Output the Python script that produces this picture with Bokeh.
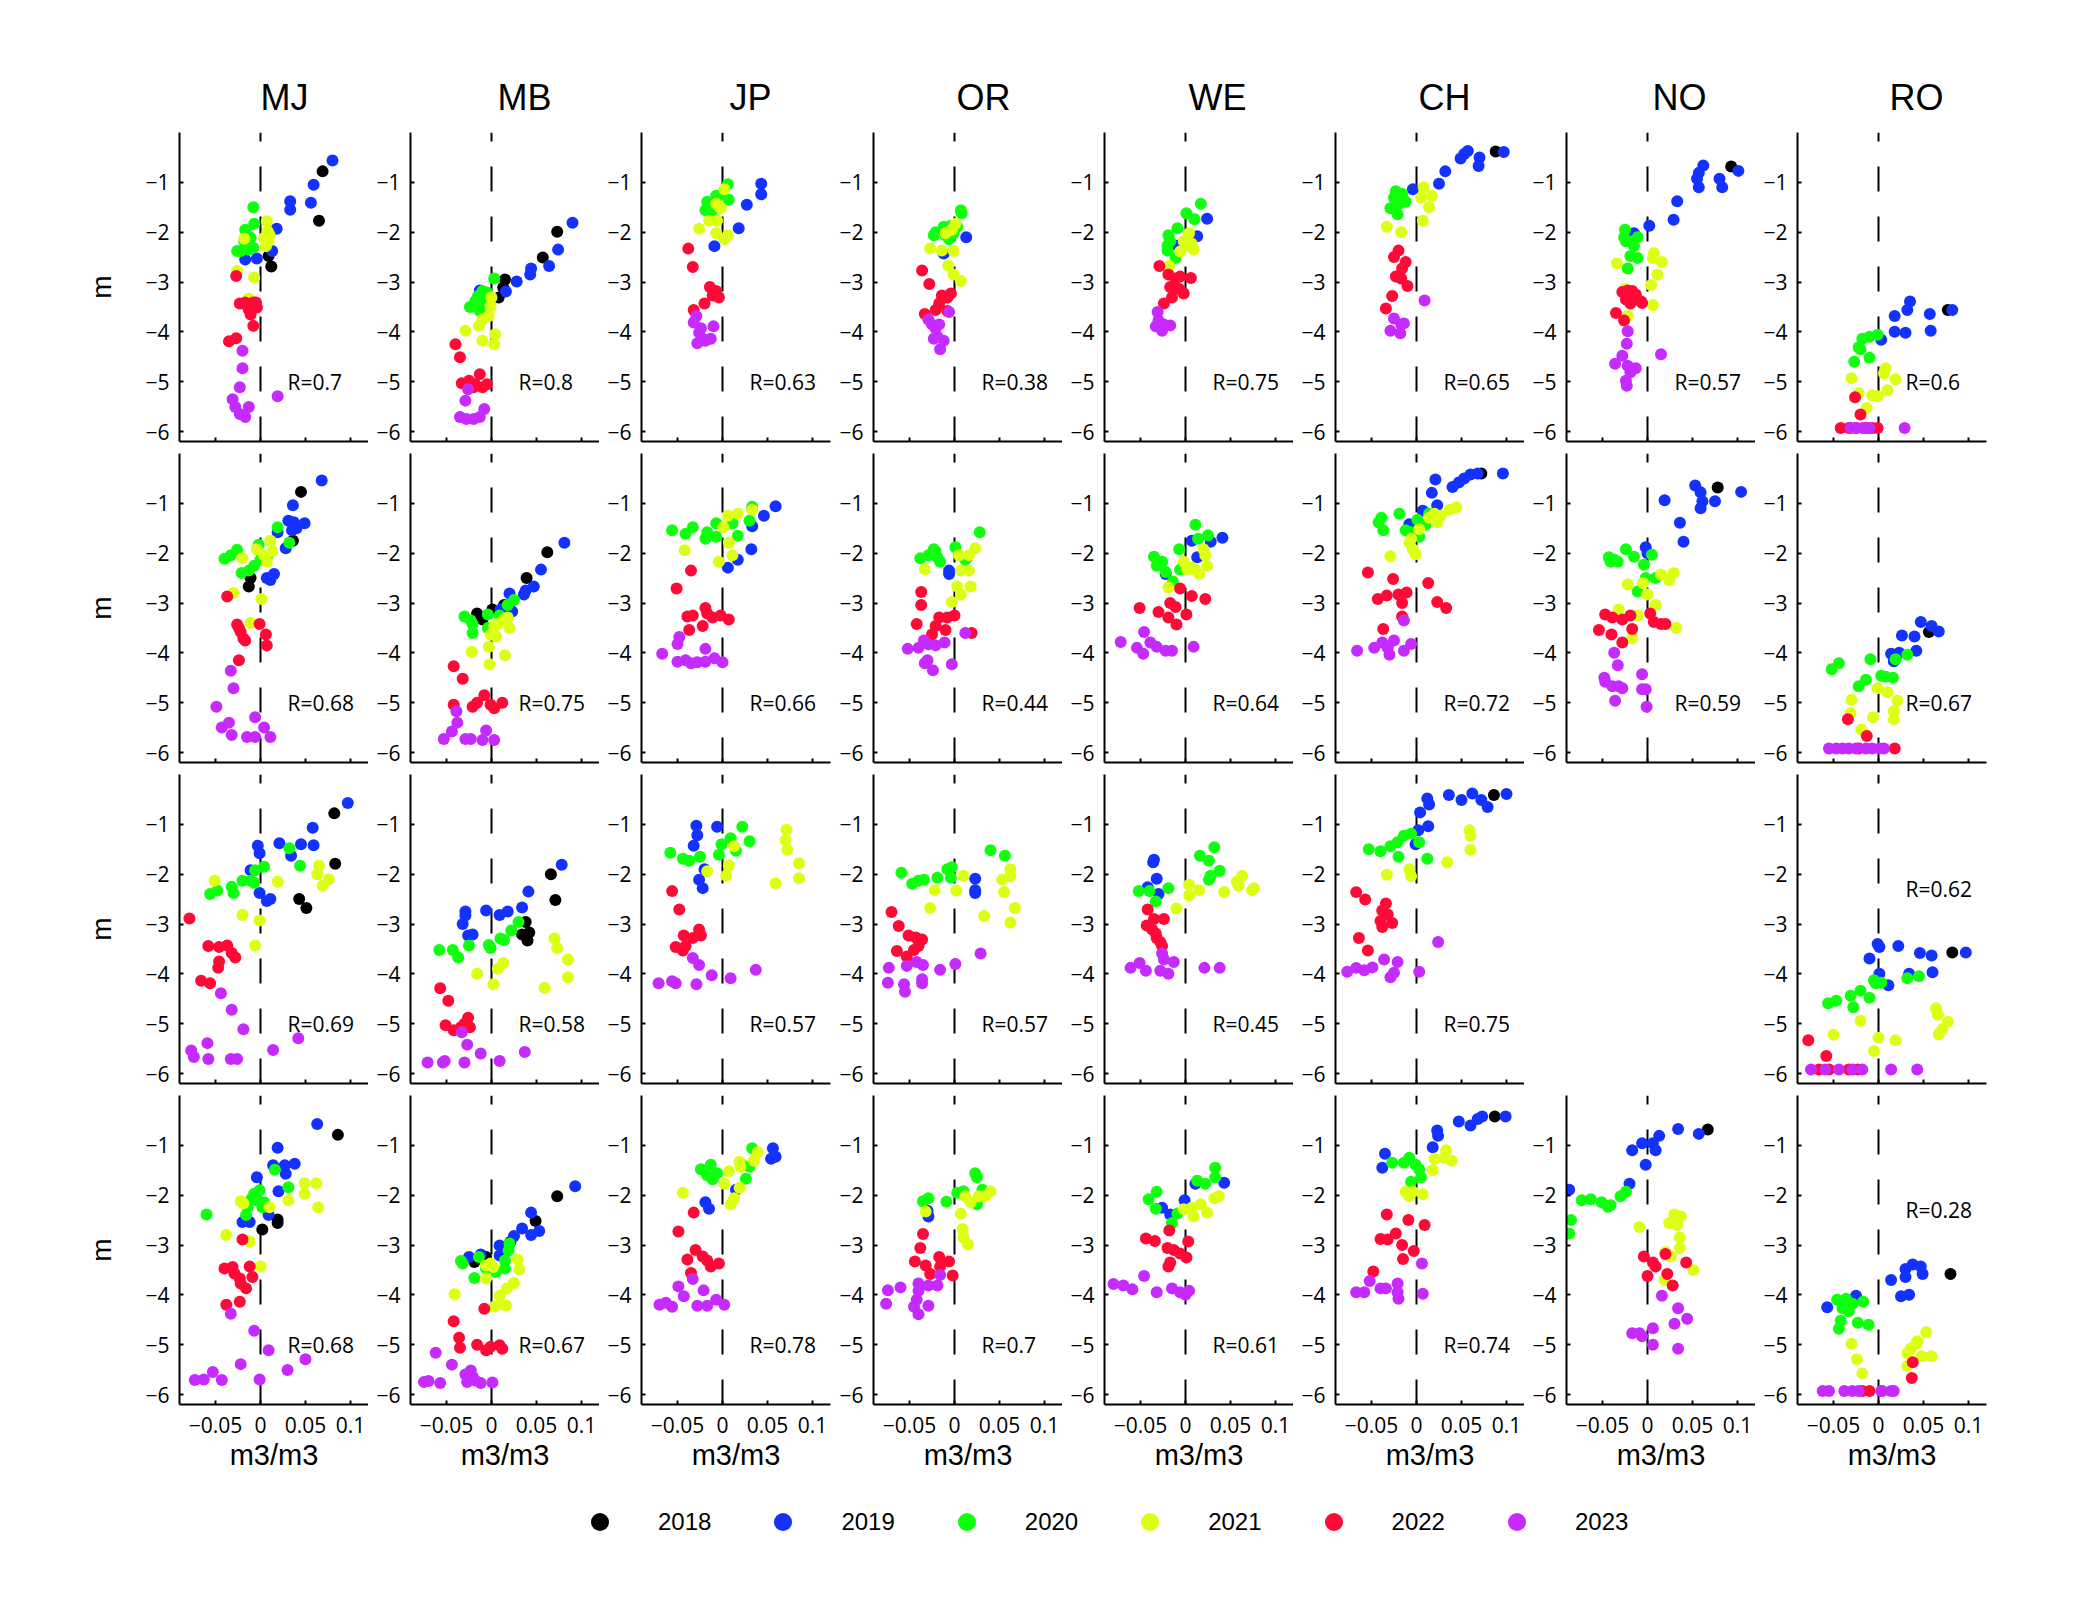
from bokeh.plotting import figure
from bokeh.layouts import row, column
from bokeh.models import (Span, Label, Legend, LegendItem, FixedTicker,
                          CustomJSTickFormatter, Title, Spacer, Range1d,
                          ColumnDataSource)
from bokeh.embed import file_html
from bokeh.resources import INLINE

SITES = ["MJ", "MB", "JP", "OR", "WE", "CH", "NO", "RO"]
YEARS = [2018, 2019, 2020, 2021, 2022, 2023]
YEAR_COLORS = ["#000000", "#1432ff", "#0fff0f", "#dcff14", "#ff0a37", "#c52bff"]
X_TICKS = [-0.05, 0, 0.05, 0.1]
Y_TICKS = [-6, -5, -4, -3, -2, -1]
R_ROW1 = ["R=0.7", "R=0.8", "R=0.63", "R=0.38", "R=0.75", "R=0.65", "R=0.57", "R=0.6"]
R_ROW2 = ["R=0.68", "R=0.75", "R=0.66", "R=0.44", "R=0.64", "R=0.72", "R=0.59", "R=0.67"]
R_ROW3 = ["R=0.69", "R=0.58", "R=0.57", "R=0.57", "R=0.45", "R=0.75", None, "R=0.62"]
R_ROW4 = ["R=0.68", "R=0.67", "R=0.78", "R=0.7", "R=0.61", "R=0.74", None, "R=0.28"]

# ---- data: (x m3/m3, y m) per site, row and year ----
MJ1_2018 = ([0.069, 0.065, 0.009, 0.012], [-0.78, -1.77, -2.48, -2.69])
MJ1_2019 = ([0.080, 0.059, 0.033, 0.033, 0.056, 0.018, 0.013, -0.004, -0.017], [-0.56, -1.05, -1.38, -1.55, -1.41, -1.93, -2.38, -2.53, -2.55])
MJ1_2020 = ([-0.008, -0.017, -0.007, -0.018, -0.011, -0.008, -0.022, -0.026, -0.013], [-1.50, -1.95, -1.83, -2.18, -2.11, -2.31, -2.38, -2.38, -2.35])
MJ1_2021 = ([0.007, 0.008, 0.009, 0.004, -0.018, -0.026, -0.007, -0.013, 0.010, 0.006], [-1.78, -1.98, -2.18, -2.11, -2.13, -2.78, -2.91, -3.33, -2.05, -2.28])
MJ1_2022 = ([-0.027, -0.023, -0.016, -0.013, -0.008, -0.004, -0.011, -0.008, -0.005, -0.017, -0.035, -0.027], [-2.88, -3.43, -3.45, -3.55, -3.41, -3.51, -3.65, -3.88, -3.41, -3.41, -4.19, -4.13])
MJ1_2023 = ([-0.020, -0.020, -0.023, -0.031, -0.028, -0.023, -0.017, -0.013, 0.019], [-4.38, -4.73, -5.11, -5.35, -5.51, -5.65, -5.71, -5.51, -5.29])

MB1_2018 = ([0.073, 0.057, 0.015, 0.013, 0.008], [-1.99, -2.51, -2.95, -3.11, -3.31])
MB1_2019 = ([0.090, 0.074, 0.064, 0.044, 0.043, 0.028, 0.016, -0.013], [-1.81, -2.35, -2.68, -2.73, -2.85, -2.99, -3.19, -3.17])
MB1_2020 = ([0.003, -0.010, -0.015, -0.018, -0.024, -0.013, -0.010, -0.005], [-2.93, -3.18, -3.28, -3.38, -3.50, -3.58, -3.41, -3.21])
MB1_2021 = ([0.000, -0.001, -0.003, -0.010, -0.014, -0.029, -0.010, 0.003, 0.004], [-3.31, -3.48, -3.68, -3.75, -3.88, -3.98, -4.18, -4.25, -4.05])
MB1_2022 = ([-0.040, -0.035, -0.033, -0.025, -0.018, -0.013, -0.010, -0.005, -0.020], [-4.25, -4.51, -5.03, -4.98, -5.05, -4.85, -5.11, -5.05, -5.11])
MB1_2023 = ([-0.026, -0.029, -0.008, -0.035, -0.028, -0.020, -0.013], [-5.15, -5.38, -5.55, -5.71, -5.75, -5.75, -5.71])

MJ2_2018 = ([0.045, 0.036, -0.013, -0.011], [-0.77, -1.75, -2.67, -2.50])
MJ2_2019 = ([0.068, 0.036, 0.031, 0.037, 0.040, 0.049, 0.035, 0.028, 0.019, 0.007, 0.015, 0.011], [-0.54, -1.04, -1.35, -1.38, -1.50, -1.40, -1.54, -1.90, -1.58, -2.50, -2.42, -2.54])
MJ2_2020 = ([0.019, -0.040, -0.033, -0.026, -0.021, -0.013, -0.007, -0.002, 0.007, 0.032, 0.000], [-1.48, -2.11, -2.04, -1.93, -2.40, -2.35, -2.25, -1.83, -2.08, -1.79, -2.13])
MJ2_2021 = ([-0.020, 0.011, 0.004, 0.007, -0.004, 0.013, -0.030, 0.001, -0.011], [-2.10, -1.75, -2.04, -2.17, -1.92, -1.96, -2.80, -2.92, -3.40])
MJ2_2022 = ([-0.037, -0.026, -0.022, -0.019, -0.024, -0.001, 0.006, 0.007, -0.024, -0.017], [-2.87, -3.43, -3.58, -3.71, -3.50, -3.42, -3.63, -3.85, -4.15, -3.75])
MJ2_2023 = ([-0.033, -0.030, -0.049, -0.043, -0.035, -0.032, -0.015, -0.006, -0.006, 0.004, 0.011], [-4.36, -4.71, -5.08, -5.50, -5.40, -5.65, -5.69, -5.69, -5.29, -5.50, -5.69])

MB2_2018 = ([0.062, 0.039, -0.016, -0.010, 0.001, 0.014], [-1.98, -2.50, -3.21, -3.33, -3.13, -3.04])
MB2_2019 = ([0.081, 0.055, 0.038, 0.047, 0.036, 0.020, 0.010, 0.023], [-1.79, -2.33, -2.75, -2.67, -2.83, -2.81, -3.13, -3.17])
MB2_2020 = ([-0.030, -0.023, -0.021, -0.021, -0.004, -0.004, 0.025, 0.018, 0.009], [-3.27, -3.35, -3.60, -3.42, -3.23, -3.50, -2.94, -3.04, -3.25])
MB2_2021 = ([0.007, 0.014, 0.020, 0.018, 0.003, -0.001, -0.003, 0.005, -0.022, 0.015, -0.002], [-3.42, -3.33, -3.50, -3.29, -3.46, -3.63, -3.88, -3.67, -3.98, -4.05, -4.23])
MB2_2022 = ([-0.042, -0.032, -0.042, -0.021, -0.016, -0.008, 0.003, 0.012, -0.001], [-4.27, -4.52, -5.04, -5.08, -5.00, -4.85, -5.11, -5.00, -5.04])
MB2_2023 = ([-0.039, -0.038, -0.044, -0.053, -0.029, -0.023, -0.006, -0.010, 0.003], [-5.17, -5.40, -5.58, -5.73, -5.73, -5.73, -5.56, -5.75, -5.75])

MJ3_2018 = ([0.082, 0.083, 0.043, 0.051], [-0.78, -1.79, -2.50, -2.68])
MJ3_2019 = ([0.097, 0.058, -0.003, -0.001, 0.021, 0.045, 0.059, 0.034, -0.011, -0.001, 0.007, 0.011], [-0.57, -1.07, -1.43, -1.58, -1.38, -1.40, -1.42, -1.63, -1.92, -2.38, -2.54, -2.50])
MJ3_2020 = ([0.032, 0.044, 0.004, -0.006, -0.011, -0.020, -0.007, -0.032, -0.030, -0.056, -0.048], [-1.48, -1.83, -1.85, -1.92, -2.13, -2.13, -2.17, -2.25, -2.38, -2.40, -2.33])
MJ3_2021 = ([-0.051, 0.019, 0.065, 0.063, 0.076, 0.069, -0.020, -0.001, -0.006], [-2.13, -2.15, -1.83, -2.00, -2.10, -2.23, -2.82, -2.93, -3.43])
MJ3_2022 = ([-0.079, -0.058, -0.046, -0.037, -0.032, -0.028, -0.046, -0.047, -0.066, -0.056], [-2.89, -3.44, -3.46, -3.43, -3.58, -3.67, -3.75, -3.88, -4.14, -4.19])
MJ3_2023 = ([-0.044, -0.032, -0.019, -0.077, -0.074, -0.059, -0.058, -0.033, -0.026, 0.014, 0.042], [-4.39, -4.72, -5.11, -5.54, -5.67, -5.39, -5.71, -5.71, -5.71, -5.53, -5.29])

MB3_2018 = ([0.066, 0.071, 0.038, 0.042, 0.034, 0.040], [-2.00, -2.52, -2.96, -3.17, -3.21, -3.33])
MB3_2019 = ([0.078, 0.041, -0.029, -0.029, -0.032, -0.021, -0.026, -0.006, 0.009, 0.018, 0.034], [-1.81, -2.35, -2.75, -2.83, -3.00, -3.21, -3.23, -2.73, -2.82, -2.75, -2.67])
MB3_2020 = ([0.030, 0.022, 0.010, 0.014, -0.003, -0.001, -0.025, -0.058, -0.043, -0.037], [-2.96, -3.13, -3.29, -3.32, -3.42, -3.48, -3.43, -3.52, -3.52, -3.67])
MB3_2021 = ([0.070, 0.073, 0.085, 0.085, 0.059, 0.013, 0.007, -0.016, 0.002], [-3.29, -3.48, -3.71, -4.07, -4.28, -3.78, -3.90, -4.00, -4.21])
MB3_2022 = ([-0.057, -0.048, -0.051, -0.042, -0.034, -0.026, -0.024, -0.030], [-4.29, -4.54, -5.03, -5.13, -5.07, -4.88, -5.07, -5.00])
MB3_2023 = ([-0.033, -0.027, -0.012, -0.071, -0.054, -0.052, -0.030, 0.009, 0.037], [-5.17, -5.42, -5.60, -5.78, -5.78, -5.75, -5.78, -5.75, -5.57])

MJ4_2018 = ([0.086, 0.019, 0.019, 0.002], [-0.79, -2.49, -2.56, -2.69])
MJ4_2019 = ([0.063, 0.019, 0.014, 0.027, 0.038, 0.028, -0.004, 0.020, -0.020, -0.012, 0.009], [-0.57, -1.05, -1.40, -1.40, -1.37, -1.57, -1.64, -1.92, -2.54, -2.54, -2.40])
MJ4_2020 = ([-0.060, 0.016, 0.031, -0.001, -0.010, -0.004, 0.002, 0.004, -0.014, -0.016, -0.007], [-2.39, -1.49, -1.84, -1.90, -2.07, -2.10, -2.24, -2.14, -2.24, -2.40, -1.97])
MJ4_2021 = ([0.049, 0.062, 0.049, 0.064, 0.031, -0.022, -0.019, 0.010, -0.038, -0.012, 0.000], [-1.76, -1.76, -1.97, -2.24, -2.10, -2.12, -2.16, -2.24, -2.80, -2.93, -3.43])
MJ4_2022 = ([-0.020, -0.040, -0.031, -0.029, -0.023, -0.022, -0.016, -0.012, -0.009, -0.038, -0.023], [-2.89, -3.47, -3.44, -3.57, -3.67, -3.77, -3.87, -3.43, -3.64, -4.20, -4.14])
MJ4_2023 = ([-0.033, -0.007, 0.009, -0.022, -0.073, -0.063, -0.053, -0.043, -0.001, 0.030, 0.050], [-4.38, -4.72, -5.11, -5.39, -5.71, -5.70, -5.55, -5.71, -5.70, -5.51, -5.29])

MB4_2018 = ([0.073, 0.049, -0.019, -0.006, 0.021], [-2.02, -2.52, -3.34, -3.24, -2.94])
MB4_2019 = ([0.093, 0.044, 0.053, 0.044, 0.034, 0.025, 0.009, 0.009, -0.012, -0.025], [-1.82, -2.35, -2.72, -2.80, -2.67, -2.82, -3.01, -3.21, -3.19, -3.24])
MB4_2020 = ([0.020, 0.019, 0.015, 0.015, 0.005, -0.006, -0.034, -0.032, -0.014, -0.019], [-2.97, -3.11, -3.31, -3.47, -3.54, -3.47, -3.32, -3.37, -3.24, -3.66])
MB4_2021 = ([-0.006, -0.001, 0.002, -0.006, 0.029, 0.031, 0.025, 0.017, 0.009, 0.010, 0.016, 0.003, -0.041], [-3.41, -3.37, -3.44, -3.67, -3.29, -3.49, -3.76, -3.87, -4.02, -4.19, -4.21, -4.24, -3.99])
MB4_2022 = ([-0.008, -0.042, -0.036, -0.035, -0.016, -0.006, 0.009, 0.012, -0.001], [-4.28, -4.53, -4.86, -5.06, -5.00, -5.11, -5.01, -5.08, -5.04])
MB4_2023 = ([-0.062, -0.044, -0.075, -0.070, -0.057, -0.029, -0.021, -0.027, -0.018, -0.012, -0.023, 0.001], [-5.16, -5.40, -5.75, -5.73, -5.77, -5.60, -5.64, -5.75, -5.72, -5.77, -5.52, -5.76])

JP1_2019 = ([0.043, 0.043, 0.027, 0.018, -0.009], [-1.03, -1.24, -1.45, -1.92, -2.28])
JP1_2020 = ([0.006, 0.007, -0.004, -0.017, -0.019, -0.011, -0.007, -0.015], [-1.04, -1.35, -1.27, -1.39, -1.56, -1.56, -1.27, -1.43])
JP1_2021 = ([0.002, -0.007, -0.002, -0.006, -0.015, -0.026, -0.007, 0.002, 0.006, -0.004], [-1.14, -1.43, -1.52, -1.77, -1.77, -1.93, -2.02, -2.14, -2.06, -1.48])
JP1_2022 = ([-0.038, -0.033, -0.014, -0.011, -0.004, -0.020, -0.032, -0.007], [-2.33, -2.70, -3.10, -3.27, -3.31, -3.43, -3.56, -3.18])
JP1_2023 = ([-0.029, -0.032, -0.010, -0.026, -0.022, -0.013, -0.028, -0.019, -0.024], [-3.68, -3.81, -3.89, -4.02, -4.14, -4.14, -4.23, -4.18, -3.93])

OR1_2019 = ([0.013, -0.012], [-2.10, -2.43])
OR1_2020 = ([0.007, 0.008, -0.012, -0.004, -0.021, -0.023, -0.010, -0.001, -0.006, 0.003], [-1.56, -1.62, -1.89, -1.87, -2.00, -2.06, -2.06, -2.02, -2.14, -1.89])
OR1_2021 = ([0.001, -0.010, -0.003, -0.027, -0.014, -0.001, -0.007, -0.001, 0.007], [-1.83, -2.02, -1.95, -2.33, -2.37, -2.38, -2.67, -2.85, -2.98])
OR1_2022 = ([-0.036, -0.028, -0.014, -0.008, -0.004, -0.017, -0.021, -0.008, -0.033], [-2.77, -3.04, -3.27, -3.31, -3.23, -3.43, -3.56, -3.58, -3.64])
OR1_2023 = ([-0.006, -0.029, -0.025, -0.021, -0.017, -0.019, -0.023, -0.012, -0.016], [-3.60, -3.75, -3.85, -3.93, -3.85, -4.10, -4.14, -4.18, -4.35])

JP2_2019 = ([0.059, 0.046, 0.033, 0.032, 0.017, 0.006], [-1.06, -1.25, -1.46, -1.92, -2.13, -2.29])
JP2_2020 = ([-0.056, -0.041, -0.033, -0.019, -0.017, -0.007, -0.007, 0.011, 0.017, 0.030, 0.033], [-1.54, -1.61, -1.48, -1.71, -1.58, -1.67, -1.40, -1.40, -1.65, -1.35, -1.07])
JP2_2021 = ([-0.042, -0.004, 0.011, 0.007, 0.001, 0.006, 0.017, 0.033], [-1.94, -2.17, -2.04, -1.79, -1.48, -1.25, -1.21, -1.13])
JP2_2022 = ([-0.035, -0.051, -0.019, -0.039, -0.033, -0.037, -0.022, -0.011, -0.002, 0.007, -0.017], [-2.35, -2.71, -3.10, -3.27, -3.25, -3.54, -3.46, -3.29, -3.25, -3.33, -3.21])
JP2_2023 = ([-0.067, -0.048, -0.050, -0.050, -0.041, -0.035, -0.028, -0.019, -0.019, -0.009, 0.000], [-4.02, -3.68, -3.82, -4.18, -4.15, -4.21, -4.19, -4.18, -3.92, -4.11, -4.19])

OR2_2019 = ([0.014, -0.006, -0.006], [-2.08, -2.35, -2.42])
OR2_2020 = ([0.028, -0.038, -0.029, -0.023, -0.019, -0.021, -0.016, 0.001, 0.012], [-1.58, -2.10, -2.04, -1.92, -2.08, -1.96, -2.17, -1.88, -2.13])
OR2_2021 = ([0.023, 0.016, 0.005, -0.033, 0.007, 0.016, 0.003, 0.018, 0.007, -0.003], [-1.90, -2.04, -2.04, -2.32, -2.35, -2.35, -2.67, -2.67, -2.83, -2.98])
OR2_2022 = ([-0.037, -0.037, -0.042, -0.025, -0.017, -0.008, 0.000, -0.021, -0.010, 0.019], [-2.78, -3.04, -3.42, -3.63, -3.29, -3.29, -3.25, -3.46, -3.54, -3.60])
OR2_2023 = ([0.012, -0.052, -0.040, -0.034, -0.029, -0.021, -0.011, -0.030, -0.033, -0.024, -0.003], [-3.60, -3.92, -3.90, -3.75, -3.83, -3.85, -3.79, -4.15, -4.21, -4.35, -4.23])

JP3_2019 = ([-0.029, -0.028, -0.032, -0.006, -0.020, -0.026, -0.022], [-1.03, -1.22, -1.43, -1.05, -1.90, -2.11, -2.28])
JP3_2020 = ([-0.058, -0.044, -0.037, -0.025, -0.004, -0.001, 0.009, 0.015, 0.022, 0.030], [-1.57, -1.69, -1.73, -1.65, -1.61, -1.40, -1.28, -1.53, -1.05, -1.34])
JP3_2021 = ([-0.017, 0.004, 0.007, 0.013, 0.071, 0.070, 0.072, 0.085, 0.085, 0.059], [-1.94, -2.03, -1.82, -1.44, -1.11, -1.32, -1.51, -1.78, -2.08, -2.18])
JP3_2022 = ([-0.056, -0.048, -0.026, -0.043, -0.033, -0.024, -0.041, -0.052, -0.044], [-2.34, -2.71, -3.11, -3.23, -3.28, -3.23, -3.44, -3.46, -3.53])
JP3_2023 = ([-0.033, -0.026, -0.071, -0.056, -0.052, -0.029, -0.012, 0.009, 0.037], [-3.68, -3.82, -4.19, -4.15, -4.19, -4.21, -4.03, -4.09, -3.92])

OR3_2019 = ([0.023, 0.023, 0.023], [-2.09, -2.32, -2.38])
OR3_2020 = ([-0.059, -0.047, -0.040, -0.034, -0.019, -0.008, -0.004, -0.003, 0.040, 0.056], [-1.97, -2.19, -2.13, -2.11, -2.07, -1.90, -2.07, -1.86, -1.52, -1.63])
OR3_2021 = ([0.010, -0.022, 0.002, -0.027, 0.033, 0.055, 0.053, 0.062, 0.062, 0.067, 0.062], [-2.03, -2.32, -2.33, -2.68, -2.84, -2.36, -2.11, -1.90, -2.04, -2.68, -2.97])
OR3_2022 = ([-0.070, -0.062, -0.064, -0.051, -0.043, -0.040, -0.045, -0.036, -0.053], [-2.76, -3.04, -3.54, -3.23, -3.27, -3.44, -3.52, -3.31, -3.65])
OR3_2023 = ([-0.042, -0.053, -0.035, -0.073, -0.074, -0.056, -0.055, -0.036, -0.036, -0.016, 0.001, 0.029], [-3.76, -3.84, -3.82, -3.88, -4.18, -4.21, -4.36, -4.11, -4.19, -3.92, -3.80, -3.59])

JP4_2019 = ([0.056, 0.059, 0.054, 0.015, -0.019, -0.015], [-1.06, -1.23, -1.27, -1.89, -2.14, -2.27])
JP4_2020 = ([0.033, -0.024, -0.013, -0.011, -0.017, -0.006, 0.026, 0.022, 0.030], [-1.06, -1.48, -1.39, -1.68, -1.60, -1.56, -1.67, -1.39, -1.43])
JP4_2021 = ([-0.044, 0.002, 0.007, 0.019, 0.020, 0.035, 0.039, 0.019, 0.013, 0.009], [-1.95, -1.77, -1.52, -1.33, -1.43, -1.31, -1.14, -1.85, -2.06, -2.18])
JP4_2022 = ([-0.032, -0.049, -0.039, -0.030, -0.022, -0.017, -0.013, -0.004, -0.035], [-2.35, -2.73, -3.29, -3.10, -3.23, -3.31, -3.43, -3.37, -3.56])
JP4_2023 = ([-0.033, -0.049, -0.043, -0.021, -0.070, -0.063, -0.056, -0.028, -0.017, -0.007, 0.002], [-3.68, -3.83, -4.03, -3.91, -4.20, -4.16, -4.24, -4.22, -4.22, -4.10, -4.20])

OR4_2019 = ([-0.029, -0.030], [-2.43, -2.31])
OR4_2020 = ([-0.029, -0.035, -0.009, 0.003, 0.010, 0.023, 0.025, 0.031, 0.025], [-2.06, -2.12, -2.13, -1.95, -1.92, -1.56, -1.64, -1.89, -2.18])
OR4_2021 = ([-0.032, 0.012, 0.018, 0.027, 0.034, 0.040, 0.007, 0.009, 0.010, 0.015], [-2.33, -2.02, -2.14, -2.02, -2.02, -1.92, -2.37, -2.68, -2.85, -2.99])
OR4_2022 = ([-0.035, -0.038, -0.044, -0.032, -0.027, -0.017, -0.006, -0.016, -0.002], [-2.78, -3.06, -3.33, -3.41, -3.58, -3.24, -3.33, -3.43, -3.61])
OR4_2023 = ([-0.074, -0.060, -0.076, -0.040, -0.029, -0.019, -0.016, -0.040, -0.042, -0.045, -0.029, -0.040], [-3.91, -3.85, -4.18, -3.77, -3.81, -3.81, -3.60, -3.92, -4.10, -4.24, -4.22, -4.39])

WE1_2019 = ([0.024, 0.013, -0.009], [-1.73, -2.08, -2.27])
WE1_2020 = ([0.017, 0.001, 0.010, -0.009, -0.019, -0.017, -0.020, -0.020, -0.011], [-1.43, -1.62, -1.74, -1.92, -2.06, -2.18, -2.27, -2.37, -2.52])
WE1_2021 = ([0.004, 0.007, -0.002, -0.006, 0.009, 0.002, -0.018], [-2.02, -2.23, -2.18, -2.39, -2.35, -2.27, -2.68])
WE1_2022 = ([-0.029, -0.019, -0.011, -0.006, 0.006, -0.017, -0.007, -0.002, -0.015, -0.024], [-2.68, -2.85, -2.93, -2.89, -2.92, -3.10, -3.14, -3.23, -3.31, -3.43])
WE1_2023 = ([-0.031, -0.030, -0.033, -0.026, -0.017, -0.024], [-3.60, -3.77, -3.89, -3.98, -3.87, -3.85])

CH1_2018 = ([0.088], [-0.38])
CH1_2019 = ([0.097, 0.070, 0.069, 0.057, 0.049, 0.053, 0.032, 0.025, -0.004], [-0.39, -0.50, -0.67, -0.37, -0.52, -0.43, -0.78, -1.03, -1.14])
CH1_2020 = ([-0.016, -0.025, -0.019, -0.029, -0.021, -0.012, -0.023], [-1.23, -1.31, -1.43, -1.52, -1.64, -1.39, -1.18])
CH1_2021 = ([0.008, 0.017, 0.005, 0.014, 0.007, -0.033, -0.017], [-1.10, -1.27, -1.31, -1.50, -1.77, -1.89, -2.00])
CH1_2022 = ([-0.020, -0.025, -0.012, -0.016, -0.023, -0.017, -0.010, -0.027, -0.034], [-2.37, -2.50, -2.60, -2.73, -2.89, -2.93, -3.08, -3.28, -3.53])
CH1_2023 = ([0.009, -0.025, -0.017, -0.029, -0.014, -0.018], [-3.37, -3.73, -3.85, -3.98, -3.83, -4.03])

WE2_2019 = ([0.041, 0.028, 0.007, 0.013, -0.022], [-1.69, -1.77, -1.75, -2.08, -2.42])
WE2_2020 = ([0.011, 0.014, 0.025, -0.007, -0.035, -0.026, -0.032, -0.022, -0.006, -0.014], [-1.43, -1.71, -1.64, -1.92, -2.07, -2.17, -2.25, -2.38, -2.33, -2.57])
WE2_2021 = ([-0.002, 0.011, 0.015, 0.022, 0.024, 0.020, 0.007, 0.002, -0.019], [-2.17, -2.33, -2.42, -2.04, -2.25, -1.92, -2.29, -2.33, -2.69])
WE2_2022 = ([-0.006, 0.007, 0.022, -0.051, -0.030, -0.019, -0.017, -0.011, -0.010, 0.001], [-2.71, -2.86, -2.92, -3.10, -3.18, -3.29, -3.00, -3.08, -3.43, -3.23])
WE2_2023 = ([-0.072, -0.046, -0.039, -0.032, -0.022, -0.015, -0.054, -0.047, 0.009], [-3.78, -3.58, -3.79, -3.88, -3.96, -3.96, -3.90, -4.02, -3.88])

CH2_2018 = ([0.072], [-0.40])
CH2_2019 = ([0.096, 0.060, 0.068, 0.053, 0.047, 0.040, 0.021, 0.017, 0.023, 0.007, -0.008], [-0.40, -0.42, -0.40, -0.50, -0.58, -0.67, -0.52, -0.79, -1.04, -1.15, -1.42])
CH2_2020 = ([-0.039, -0.042, -0.037, -0.019, -0.012, -0.006, 0.003, 0.001, 0.010, 0.014], [-1.29, -1.38, -1.54, -1.21, -1.54, -1.58, -1.67, -1.33, -1.43, -1.21])
CH2_2021 = ([0.003, 0.014, 0.027, 0.037, 0.044, 0.023, 0.020, -0.008, -0.004, -0.001, -0.006, -0.029], [-1.52, -1.29, -1.25, -1.13, -1.08, -1.38, -1.21, -1.79, -1.92, -2.02, -1.71, -2.06])
CH2_2022 = ([-0.054, -0.026, 0.013, -0.043, -0.033, -0.020, -0.011, -0.016, 0.023, 0.033, -0.016, -0.037], [-2.39, -2.52, -2.60, -2.92, -2.85, -2.83, -2.79, -3.00, -2.98, -3.10, -3.27, -3.52])
CH2_2023 = ([-0.014, -0.066, -0.047, -0.038, -0.025, -0.030, -0.032, -0.014, -0.006], [-3.35, -3.96, -3.90, -3.79, -3.75, -4.04, -3.90, -3.96, -3.82])

WE3_2019 = ([-0.035, -0.036, -0.032, -0.042, -0.030], [-1.71, -1.76, -2.09, -2.26, -2.40])
WE3_2020 = ([-0.052, -0.040, -0.033, -0.019, 0.016, 0.026, 0.032, 0.038, 0.026, 0.028], [-2.34, -2.34, -2.55, -2.28, -1.63, -1.73, -1.46, -1.93, -2.11, -2.03])
WE3_2021 = ([-0.010, 0.004, 0.004, 0.015, 0.043, 0.057, 0.063, 0.059, 0.074, 0.076], [-2.69, -2.21, -2.43, -2.32, -2.36, -2.15, -2.03, -2.23, -2.32, -2.28])
WE3_2022 = ([-0.042, -0.035, -0.024, -0.043, -0.037, -0.033, -0.032, -0.028, -0.026], [-2.71, -2.90, -2.90, -3.03, -3.11, -3.19, -3.28, -3.36, -3.44])
WE3_2023 = ([-0.026, -0.024, -0.013, -0.061, -0.051, -0.044, -0.028, -0.019, 0.021, 0.038], [-3.59, -3.71, -3.76, -3.88, -3.78, -3.94, -3.94, -4.00, -3.88, -3.88])

CH3_2018 = ([0.086], [-0.41])
CH3_2019 = ([0.100, 0.079, 0.072, 0.062, 0.050, 0.036, 0.012, 0.014, 0.004, 0.013, 0.002, -0.001], [-0.39, -0.65, -0.51, -0.38, -0.51, -0.41, -0.48, -0.60, -0.76, -1.04, -1.12, -1.40])
CH3_2020 = ([-0.053, -0.040, -0.029, -0.021, -0.014, -0.006, 0.003, -0.020, 0.012], [-1.50, -1.54, -1.44, -1.36, -1.23, -1.19, -1.36, -1.65, -1.69])
CH3_2021 = ([0.059, 0.060, 0.060, 0.034, -0.033, -0.008, -0.006], [-1.12, -1.23, -1.51, -1.76, -2.01, -1.90, -2.04])
CH3_2022 = ([-0.067, -0.057, -0.034, -0.038, -0.040, -0.038, -0.027, -0.032, -0.064, -0.054], [-2.36, -2.51, -2.59, -2.73, -2.94, -3.06, -2.98, -2.81, -3.28, -3.53])
CH3_2023 = ([0.024, -0.036, -0.077, -0.067, -0.058, -0.049, -0.021, -0.025, -0.029, 0.003], [-3.36, -3.71, -3.96, -3.88, -3.93, -3.87, -3.76, -3.98, -4.07, -3.96])

WE4_2019 = ([0.043, 0.011, -0.001, -0.026, -0.017], [-1.75, -1.77, -2.10, -2.25, -2.39])
WE4_2020 = ([0.033, 0.033, 0.013, 0.022, -0.032, -0.041, -0.033, -0.009, -0.015], [-1.45, -1.64, -1.71, -1.77, -1.93, -2.08, -2.27, -2.37, -2.56])
WE4_2021 = ([-0.002, 0.007, 0.017, 0.024, 0.009, 0.032, 0.037], [-2.28, -2.25, -2.18, -2.35, -2.43, -2.06, -2.02])
WE4_2022 = ([-0.018, -0.044, -0.034, -0.020, -0.013, -0.006, 0.003, 0.001, -0.017, -0.019], [-2.71, -2.87, -2.92, -3.06, -3.10, -3.17, -2.93, -3.25, -3.35, -3.43])
WE4_2023 = ([-0.046, -0.080, -0.069, -0.059, -0.032, -0.015, -0.006, 0.004, 0.000], [-3.62, -3.78, -3.81, -3.89, -3.95, -3.87, -3.95, -3.92, -4.00])

CH4_2018 = ([0.087], [-0.42])
CH4_2019 = ([0.099, 0.073, 0.068, 0.060, 0.047, 0.023, 0.024, 0.018, -0.035, -0.038], [-0.42, -0.42, -0.47, -0.60, -0.52, -0.70, -0.81, -1.04, -1.17, -1.45])
CH4_2020 = ([-0.027, -0.014, -0.008, -0.001, 0.003, 0.005, -0.006], [-1.35, -1.35, -1.25, -1.39, -1.48, -1.64, -1.73])
CH4_2021 = ([0.020, 0.033, 0.031, 0.039, 0.018, -0.012, -0.004, -0.008, 0.007], [-1.27, -1.10, -1.25, -1.31, -1.50, -1.93, -1.93, -2.02, -1.98])
CH4_2022 = ([-0.033, -0.009, 0.009, -0.040, -0.032, -0.023, -0.016, -0.003, -0.015, -0.048], [-2.39, -2.50, -2.60, -2.88, -2.89, -2.77, -3.00, -3.12, -3.28, -3.53])
CH4_2023 = ([0.006, -0.052, -0.067, -0.058, -0.040, -0.034, -0.021, -0.021, -0.020, 0.007], [-3.37, -3.72, -3.95, -3.95, -3.87, -3.87, -3.77, -3.95, -4.08, -3.98])

NO1_2018 = ([0.093], [-0.68])
NO1_2019 = ([0.062, 0.057, 0.055, 0.057, 0.080, 0.083, 0.101, 0.033, 0.029, 0.002, -0.015], [-0.66, -0.81, -0.93, -1.10, -0.93, -1.10, -0.77, -1.38, -1.75, -1.87, -2.02])
NO1_2020 = ([-0.025, -0.026, -0.024, -0.017, -0.011, -0.015, -0.019, -0.011, -0.022], [-1.95, -2.10, -2.18, -2.18, -2.10, -2.27, -2.48, -2.52, -2.73])
NO1_2021 = ([-0.034, 0.007, 0.006, 0.016, 0.011, 0.004, 0.006, -0.022, -0.025], [-2.63, -2.42, -2.52, -2.60, -2.85, -3.06, -3.46, -3.68, -3.14])
NO1_2022 = ([-0.028, -0.022, -0.017, -0.013, -0.007, -0.006, -0.024, -0.019, -0.035, -0.026], [-3.20, -3.17, -3.18, -3.25, -3.39, -3.42, -3.35, -3.43, -3.62, -3.77])
NO1_2023 = ([-0.022, -0.023, 0.015, -0.036, -0.028, -0.022, -0.013, -0.019, -0.024, -0.023], [-3.99, -4.24, -4.45, -4.64, -4.48, -4.68, -4.73, -4.81, -4.98, -5.08])

RO1_2018 = ([0.077], [-3.56])
RO1_2019 = ([0.082, 0.035, 0.032, 0.057, 0.018, 0.018, 0.030, 0.058, 0.003], [-3.56, -3.39, -3.56, -3.64, -3.68, -4.00, -4.02, -3.98, -4.16])
RO1_2020 = ([-0.018, -0.010, -0.001, -0.022, -0.020, -0.027, -0.010], [-4.14, -4.10, -4.06, -4.31, -4.35, -4.60, -4.52])
RO1_2021 = ([-0.030, 0.008, 0.006, 0.019, 0.010, -0.001, -0.007, -0.022, -0.013], [-4.93, -4.73, -4.83, -4.95, -5.17, -5.29, -5.27, -5.23, -5.53])
RO1_2022 = ([-0.026, -0.020, -0.042, -0.033, -0.025, -0.014, -0.007, -0.001], [-5.31, -5.66, -5.93, -5.93, -5.93, -5.93, -5.93, -5.93])
RO1_2023 = ([-0.031, -0.025, -0.018, -0.010, 0.029], [-5.93, -5.93, -5.93, -5.93, -5.93])

NO2_2018 = ([0.078], [-0.68])
NO2_2019 = ([0.053, 0.059, 0.061, 0.059, 0.075, 0.104, 0.019, 0.036, 0.040, -0.002, 0.000], [-0.64, -0.78, -0.96, -1.10, -0.96, -0.77, -0.94, -1.39, -1.77, -1.88, -2.00])
NO2_2020 = ([-0.024, -0.015, -0.043, -0.037, -0.033, -0.041, 0.005, -0.004, -0.002, 0.009, -0.011], [-1.92, -2.07, -2.08, -2.13, -2.17, -2.17, -2.03, -2.23, -2.50, -2.50, -2.77])
NO2_2021 = ([-0.022, 0.015, 0.029, 0.024, -0.005, 0.000, 0.009, 0.032, -0.032, -0.011, -0.017], [-2.63, -2.43, -2.40, -2.54, -2.60, -2.83, -3.04, -3.50, -3.13, -3.25, -3.71])
NO2_2022 = ([-0.047, -0.039, -0.028, -0.019, 0.003, 0.007, 0.015, 0.020, -0.017, -0.054, -0.040, -0.028], [-3.23, -3.29, -3.33, -3.25, -3.21, -3.38, -3.42, -3.42, -3.52, -3.54, -3.63, -3.79])
NO2_2023 = ([-0.037, -0.033, -0.048, -0.047, -0.039, -0.032, -0.028, -0.036, -0.006, -0.006, -0.002, -0.001], [-4.00, -4.25, -4.50, -4.58, -4.67, -4.67, -4.71, -4.96, -4.43, -4.73, -4.73, -5.08])

RO2_2018 = ([0.056], [-3.58])
RO2_2019 = ([0.067, 0.059, 0.047, 0.040, 0.026, 0.042, 0.014, 0.023, 0.017], [-3.57, -3.46, -3.38, -3.67, -3.65, -3.96, -4.02, -4.00, -4.17])
RO2_2020 = ([-0.052, -0.044, -0.009, 0.019, 0.032, -0.022, -0.014, 0.003, 0.016, 0.008], [-4.33, -4.21, -4.13, -4.13, -4.04, -4.67, -4.54, -4.46, -4.50, -4.48])
RO2_2021 = ([-0.030, -0.031, -0.001, 0.010, 0.021, 0.017, 0.017, -0.006, -0.019], [-4.94, -5.21, -4.71, -4.79, -4.96, -5.17, -5.33, -5.29, -5.54])
RO2_2022 = ([-0.034, -0.013, 0.018, -0.022], [-5.33, -5.67, -5.92, -5.92])
RO2_2023 = ([-0.055, -0.047, -0.040, -0.033, -0.025, -0.014, -0.007, 0.001, 0.006], [-5.92, -5.92, -5.92, -5.92, -5.92, -5.92, -5.92, -5.92, -5.92])

RO3_2018 = ([0.082], [-3.57])
RO3_2019 = ([-0.001, 0.001, -0.010, 0.022, 0.046, 0.059, 0.097, 0.060, 0.034, 0.001, 0.011], [-3.40, -3.46, -3.69, -3.44, -3.58, -3.63, -3.57, -3.97, -4.00, -4.00, -4.23])
RO3_2020 = ([0.032, 0.045, -0.005, 0.003, -0.003, -0.020, -0.010, -0.031, -0.028, -0.056, -0.047], [-4.09, -4.05, -4.13, -4.18, -4.19, -4.34, -4.48, -4.44, -4.67, -4.59, -4.54])
RO3_2021 = ([-0.020, -0.050, 0.000, 0.019, -0.005, 0.064, 0.066, 0.077, 0.071, 0.067], [-4.94, -5.22, -5.28, -5.33, -5.55, -4.69, -4.82, -4.96, -5.11, -5.21])
RO3_2022 = ([-0.078, -0.058, -0.066, -0.055, -0.033, -0.023], [-5.33, -5.65, -5.92, -5.92, -5.92, -5.92])
RO3_2023 = ([-0.075, -0.059, -0.044, -0.029, -0.018, 0.014, 0.043], [-5.92, -5.92, -5.92, -5.92, -5.92, -5.92, -5.92])

NO4_2018 = ([0.067], [-0.68])
NO4_2019 = ([-0.087, -0.020, -0.002, -0.017, -0.006, 0.006, 0.009, 0.013, 0.034, 0.057], [-1.89, -1.77, -1.39, -1.10, -0.96, -0.96, -1.10, -0.81, -0.67, -0.77])
NO4_2020 = ([-0.085, -0.087, -0.073, -0.063, -0.051, -0.044, -0.041, -0.030, -0.024], [-2.50, -2.77, -2.10, -2.08, -2.14, -2.23, -2.20, -2.02, -1.93])
NO4_2021 = ([-0.009, 0.024, 0.030, 0.037, 0.033, 0.036, 0.036, 0.020, 0.026, 0.051, 0.019], [-2.64, -2.56, -2.39, -2.43, -2.60, -2.85, -3.06, -3.14, -3.23, -3.50, -3.70])
NO4_2022 = ([-0.004, 0.006, 0.009, 0.020, 0.000, 0.022, 0.028, 0.043], [-3.23, -3.35, -3.43, -3.18, -3.62, -3.58, -3.81, -3.35])
NO4_2023 = ([0.016, 0.034, 0.044, 0.030, -0.017, -0.009, -0.006, 0.006, 0.006, 0.034], [-4.02, -4.27, -4.48, -4.58, -4.77, -4.77, -4.83, -4.67, -5.00, -5.08])

RO4_2018 = ([0.080], [-3.58])
RO4_2019 = ([0.014, 0.030, 0.038, 0.047, 0.049, 0.030, 0.025, 0.034, -0.025, -0.057], [-3.70, -3.48, -3.39, -3.43, -3.58, -3.64, -4.03, -4.00, -4.02, -4.25])
RO4_2020 = ([-0.046, -0.036, -0.040, -0.033, -0.029, -0.017, -0.042, -0.023, -0.011, -0.044], [-4.10, -4.08, -4.27, -4.33, -4.18, -4.14, -4.52, -4.56, -4.60, -4.68])
RO4_2021 = ([-0.030, -0.024, -0.018, 0.032, 0.036, 0.043, 0.053, 0.042, 0.032, 0.048, 0.059], [-4.98, -5.29, -5.58, -5.17, -5.08, -4.93, -4.75, -4.98, -5.43, -5.23, -5.23])
RO4_2022 = ([0.038, 0.037, -0.010, -0.018], [-5.35, -5.67, -5.93, -5.93])
RO4_2023 = ([-0.062, -0.055, -0.038, -0.029, -0.022, 0.004, 0.014, 0.017, 0.003], [-5.93, -5.93, -5.93, -5.93, -5.93, -5.93, -5.93, -5.93, -5.93])

# ---- layout / style ----
FRAME_W, FRAME_H = 189, 309
LEFT_BORDER = [179, 42, 42, 42, 42, 42, 42, 42]
RIGHT_BORDER = [0, 0, 1, 0, 0, 0, 0, 20]
TOP_BORDER = [132, 6, 6, 6]
BOTTOM_BORDER = [6, 6, 6, 80]
TITLE_CENTERS = [105, 114, 109, 110, 113, 109, 113, 119]
TITLE_ADV = {"M": 0.833, "J": 0.5, "B": 0.667, "P": 0.667, "O": 0.778, "R": 0.722,
             "W": 0.944, "E": 0.667, "C": 0.722, "H": 0.722, "N": 0.722}
TITLE_SIZE = 36
TICK_FONT = "Open Sans"
LABEL_FONT = "Liberation Sans"
R_ROWS = [R_ROW1, R_ROW2, R_ROW3, R_ROW4]
R_POS = {(2, 7): (0.03, -2.3), (3, 7): (0.03, -2.3)}
EMPTY = {(2, 6)}

FMT = "return (tick < 0 ? '\u2212' : '') + Math.abs(tick).toString();"


def base_axis(ax):
    ax.axis_line_width = 2
    ax.axis_line_color = "black"
    ax.major_tick_in = 4
    ax.major_tick_out = 0
    ax.major_tick_line_width = 2
    ax.major_tick_line_color = "black"
    ax.minor_tick_in = 4
    ax.minor_tick_out = 0
    ax.minor_tick_line_width = 2
    ax.minor_tick_line_color = "black"


def make_panel(r, c):
    site = SITES[c]
    p = figure(frame_width=FRAME_W, frame_height=FRAME_H,
               x_range=Range1d(-0.09, 0.12), y_range=Range1d(-6.2, 0),
               output_backend="svg", toolbar_location=None, title=None,
               min_border_left=LEFT_BORDER[c], min_border_right=RIGHT_BORDER[c],
               min_border_top=TOP_BORDER[r], min_border_bottom=BOTTOM_BORDER[r],
               outline_line_color=None, background_fill_color="white",
               border_fill_color="white")
    p.xgrid.visible = False
    p.ygrid.visible = False

    xa = p.xaxis[0]
    base_axis(xa)
    if r == 3:
        xa.ticker = FixedTicker(ticks=X_TICKS, minor_ticks=[])
        xa.formatter = CustomJSTickFormatter(code=FMT)
        xa.major_label_text_font = TICK_FONT
        xa.major_label_text_font_size = "21px"
        xa.major_label_text_color = "black"
        xa.major_label_standoff = 12
        xa.axis_label = "m3/m3"
        xa.axis_label_text_font = LABEL_FONT
        xa.axis_label_text_font_size = "29px"
        xa.axis_label_text_font_style = "normal"
        xa.axis_label_text_color = "black"
        xa.axis_label_standoff = 3
    else:
        # unlabeled bottom axis: tick marks only
        xa.ticker = FixedTicker(ticks=[], minor_ticks=X_TICKS)
        xa.major_label_standoff = 0

    ya = p.yaxis[0]
    base_axis(ya)
    ya.ticker = FixedTicker(ticks=Y_TICKS, minor_ticks=[])
    ya.formatter = CustomJSTickFormatter(code=FMT)
    ya.major_label_text_font = TICK_FONT
    ya.major_label_text_font_size = "21px"
    ya.major_label_text_color = "black"
    ya.major_label_standoff = 10
    if c == 0:
        ya.axis_label = "m"
        ya.axis_label_text_font = LABEL_FONT
        ya.axis_label_text_font_size = "28px"
        ya.axis_label_text_font_style = "normal"
        ya.axis_label_text_color = "black"
        ya.axis_label_standoff = 25

    p.add_layout(Span(location=0, dimension="height", line_color="black",
                      line_width=2, line_dash="25 25", line_dash_offset=16,
                      level="underlay"))

    for yr, col in zip(YEARS, YEAR_COLORS):
        d = globals().get(f"{site}{r + 1}_{yr}")
        if d is None:
            continue
        src = ColumnDataSource(data=dict(x=d[0], y=d[1]))
        p.scatter("x", "y", source=src, size=12, fill_color=col,
                  line_color=None, marker="circle")

    rtxt = R_ROWS[r][c]
    if rtxt:
        rx, ry = R_POS.get((r, c), (0.03, -5.0))
        p.add_layout(Label(x=rx, y=ry, text=rtxt, text_font=TICK_FONT,
                           text_font_size="21px", text_baseline="middle",
                           text_align="left", text_color="black"))

    if r == 0:
        w = sum(TITLE_ADV[ch] for ch in site) * TITLE_SIZE
        p.add_layout(Title(text=site, align="left", offset=TITLE_CENTERS[c] - w / 2,
                           text_font=LABEL_FONT, text_font_size=f"{TITLE_SIZE}px",
                           text_font_style="normal", text_color="black",
                           standoff=30), "above")
    return p


rows = []
for r in range(4):
    cells = []
    for c in range(8):
        if (r, c) in EMPTY:
            cells.append(Spacer(width=LEFT_BORDER[c] + FRAME_W + RIGHT_BORDER[c],
                                height=TOP_BORDER[r] + FRAME_H + BOTTOM_BORDER[r]))
        else:
            cells.append(make_panel(r, c))
    rows.append(row(*cells, spacing=0))

# legend strip: one out-of-view sample per year (the year itself) feeds the legend glyphs
total_w = sum(LEFT_BORDER) + 8 * FRAME_W + sum(RIGHT_BORDER)
leg_fig = figure(width=total_w, height=80, output_backend="svg",
                 toolbar_location=None, x_axis_location=None, y_axis_location=None,
                 min_border=0, outline_line_color=None,
                 x_range=Range1d(0, 1), y_range=Range1d(0, 1))
leg_fig.xgrid.visible = False
leg_fig.ygrid.visible = False
items = []
for yr, col in zip(YEARS, YEAR_COLORS):
    src = ColumnDataSource(data=dict(x=[float(yr)], y=[float(yr)]))
    rr = leg_fig.scatter("x", "y", source=src, size=18, fill_color=col,
                         line_color=None, marker="circle")
    items.append(LegendItem(label=str(yr), renderers=[rr]))
legend = Legend(items=items, orientation="horizontal", location=(577, 20),
                glyph_width=45, glyph_height=45, label_standoff=36, spacing=49,
                padding=0, margin=0, border_line_color=None,
                background_fill_alpha=0, label_text_font=LABEL_FONT,
                label_text_font_size="24px", label_text_color="black")
leg_fig.add_layout(legend, "center")

layout = column(*rows, leg_fig, spacing=0)
open("out.html", "w").write(file_html(layout, INLINE, "chart"))
